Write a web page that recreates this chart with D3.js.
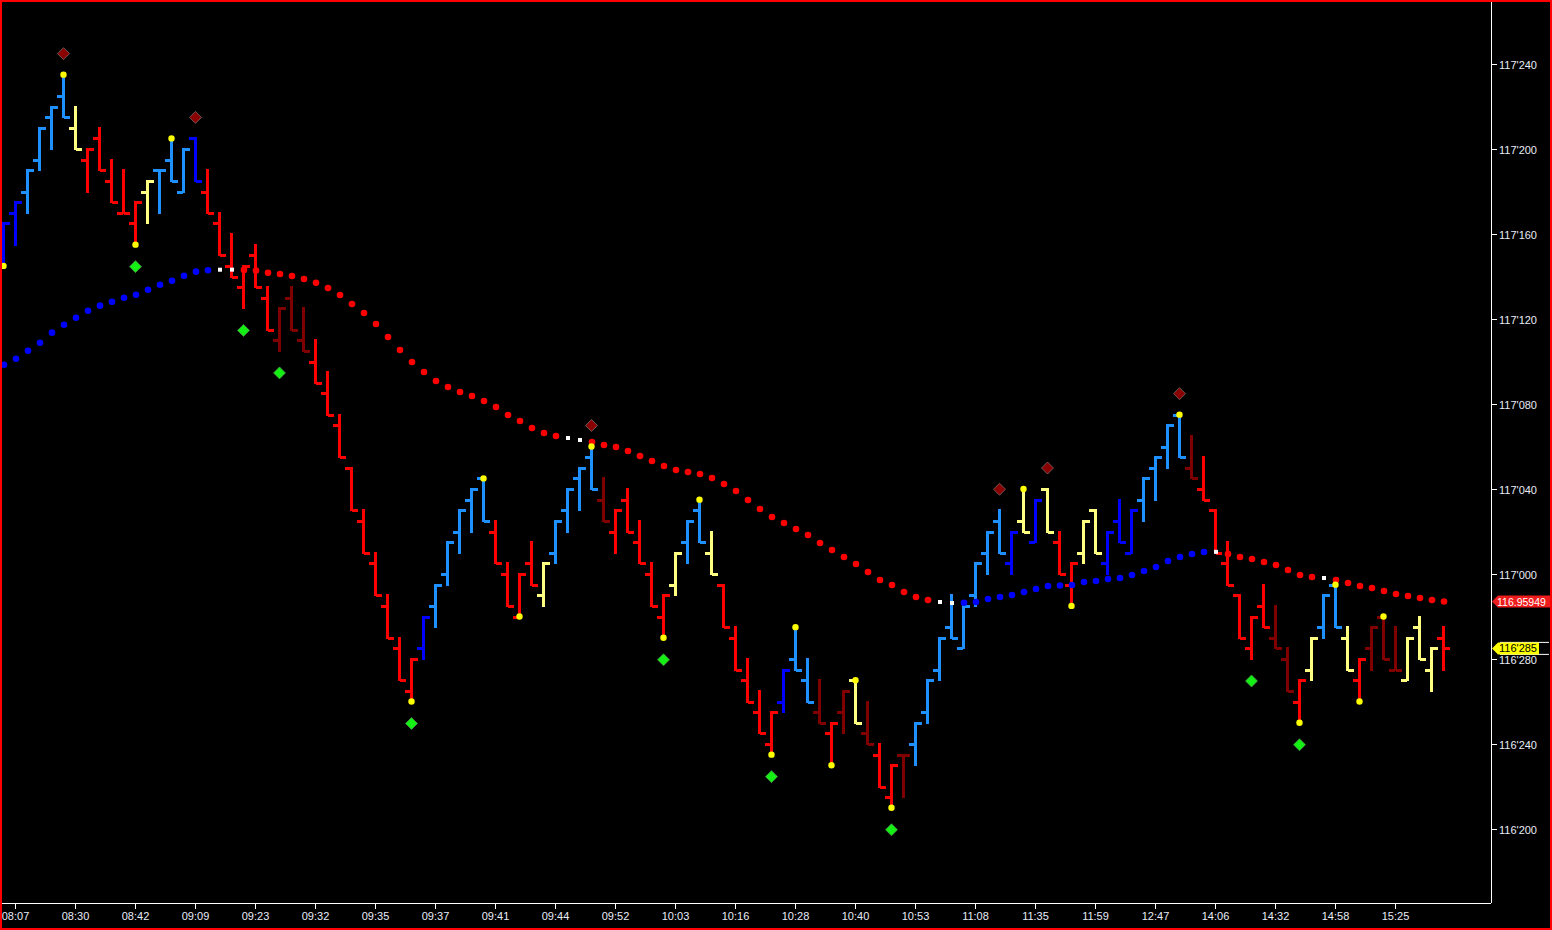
<!DOCTYPE html>
<html><head><meta charset="utf-8">
<script src="https://cdn.jsdelivr.net/npm/d3@7"></script>
<style>
html,body{margin:0;padding:0;background:#000;overflow:hidden;}
svg{display:block;}
text{font-family:"Liberation Sans",Arial,sans-serif;}
</style></head>
<body>
<svg id="chart" width="1552" height="930"></svg>
<script>
// Prices are in 64ths above 116 (price = 116 + v/64)
const opens  = [94,98,100,103,107,109,106,103,105,101,98,97,100,102,103,100,105,100,97,93,91,94,90,86,90,86,84,81,78,74,69,65,61,57,53,57,61,64,68,71,73,68,64,60,65,62,66,70,73,75,71,68,71,67,64,60,63,67,70,66,63,58,54,51,48,52,56,54,51,49,51,54,49,47,43,47,48,51,55,59,57,62,66,69,65,69,67,72,67,63,66,70,65,69,66,71,74,76,79,74,72,70,65,62,57,61,58,56,52,55,59,63,58,54,57,60,55,54,59,55,58];
const highs  = [97,99,102,106,108,111,108,104,106,103,102,99,101,102,105,104,105,102,98,96,93,95,91,89,91,89,86,83,79,74,70,66,62,58,56,60,63,67,70,72,73,69,65,64,67,65,69,72,74,76,73,70,72,69,65,62,66,69,71,68,63,59,56,53,51,55,59,56,54,50,53,54,52,48,46,47,50,54,58,62,61,65,68,70,68,72,71,72,68,65,69,70,68,71,70,73,75,78,79,77,75,70,67,62,60,63,61,57,54,58,62,63,59,56,59,60,59,58,60,57,59];
const lows   = [93,95,98,102,104,107,104,100,102,99,98,95,97,98,101,100,101,98,94,92,89,91,87,85,87,85,82,79,75,70,66,62,58,54,52,56,59,63,66,68,69,65,61,60,63,61,65,68,70,72,69,66,68,65,61,58,62,65,67,64,59,55,52,49,47,51,55,52,50,46,49,50,48,44,42,43,46,50,54,58,57,61,64,66,64,68,67,68,64,61,65,66,64,67,66,69,71,74,75,73,71,66,63,58,56,59,57,53,50,54,58,59,55,52,55,56,55,54,56,53,55];
const closes = [97,99,102,106,108,107,104,104,102,99,98,99,101,102,101,104,101,98,94,92,93,91,87,89,87,85,82,79,75,70,66,62,58,54,56,60,63,67,70,72,69,65,61,64,63,65,69,72,74,72,69,70,68,65,61,62,66,69,67,64,59,55,52,49,51,55,55,52,50,50,53,50,48,44,46,47,50,54,58,58,61,65,68,66,68,68,71,68,64,65,69,66,68,67,70,73,75,78,75,73,71,66,63,58,60,59,57,53,54,58,62,59,55,56,59,56,55,58,56,57,57];
// Bar colour class: B dark blue, L light blue, Y pale yellow, R red, M dark red
const barClass = "BBLLLLYRRRRRYLLLBRRRRRRMMMRRRRRRRRRBLLLLLRRRRYLLLLMRRRRRYLLYRRRRRBLLMRMYMRRMLLLLLLLLBYBYRRYYBBBLLLLMRRRRRRMMRYLLYRMMMYYYR";
// Moving average (price) per bar and its state: U rising, F flat, D falling
const maValues = [117.3078,117.3166,117.3284,117.3401,117.3549,117.3666,117.3769,117.3872,117.3946,117.4004,117.4063,117.4107,117.4181,117.4254,117.4313,117.4387,117.4446,117.4468,117.4475,117.4476,117.4472,117.4462,117.4431,117.4412,117.4382,117.4338,117.4284,117.4206,117.4103,117.3971,117.3838,117.3676,117.3485,117.3294,117.3118,117.2971,117.2838,117.2750,117.2676,117.2618,117.2544,117.2456,117.2338,117.2250,117.2147,117.2074,117.2029,117.2000,117.1971,117.1941,117.1897,117.1868,117.1809,117.1735,117.1662,117.1588,117.1529,117.1500,117.1471,117.1412,117.1324,117.1221,117.1088,117.0956,117.0838,117.0750,117.0662,117.0574,117.0456,117.0353,117.0250,117.0147,117.0029,116.9912,116.9838,116.9735,116.9662,116.9618,116.9588,116.9574,116.9578,116.9588,116.9632,116.9662,116.9691,116.9735,116.9779,116.9824,116.9830,116.9838,116.9882,116.9897,116.9926,116.9941,116.9985,117.0044,117.0103,117.0191,117.0250,117.0294,117.0324,117.0326,117.0294,117.0250,117.0221,117.0176,117.0132,117.0059,116.9985,116.9956,116.9941,116.9912,116.9868,116.9824,116.9794,116.9750,116.9706,116.9676,116.9647,116.9618,116.95949];
const maState = "UUUUUUUUUUUUUUUUUUFFDDDDDDDDDDDDDDDDDDDDDDDDDDDFFDDDDDDDDDDDDDDDDDDDDDDDDDDDDDFFUUUUUUUUUUUUUUUUUUUUUFDDDDDDDDFDDDDDDDDDD";
// Swing markers (bar indices)
const swingHighBars = [5,14,40,49,58,66,71,85,98,111,115];
const swingLowBars  = [0,11,34,43,55,64,69,74,89,108,113];
const buySignalBars = [11,20,23,34,55,64,74,104,108];
const sellSignalBars = [5,16,49,83,87,98];
// Axis labels
const timeLabels = ["08:07","08:30","08:42","09:09","09:23","09:32","09:35","09:37","09:41","09:44","09:52","10:03","10:16","10:28","10:40","10:53","11:08","11:35","11:59","12:47","14:06","14:32","14:58","15:25"];
const priceTicks = [116.625,116.75,116.875,117.0,117.125,117.25,117.375,117.5,117.625,117.75];
const lastMa = 116.95949;
const lastClose = 116.890625;

const toPrice = v => 116 + v/64;
const fmt32 = p => { const i = Math.floor(p + 1e-9); const f = Math.round((p - i) * 320); return i + "'" + String(f).padStart(3, "0"); };

const W = 1552, H = 930, plotR = 1491, plotB = 903;
const svg = d3.select("#chart");
svg.append("rect").attr("width", W).attr("height", H).attr("fill", "#000");

const x = d3.scaleLinear().domain([0, opens.length - 1]).range([3, 1443]);
const y = d3.scaleLinear().domain([117, 117.125]).range([574, 489]);

const colorOf = {B: "#0000ff", L: "#1e90ff", Y: "#ffff80", R: "#ff0000", M: "#800000"};

// Bars
const bars = svg.append("g").attr("shape-rendering", "crispEdges");
opens.forEach((o, i) => {
  const cx = Math.round(x(i)), c = colorOf[barClass[i]];
  const yh = Math.round(y(toPrice(highs[i]))), yl = Math.round(y(toPrice(lows[i])));
  bars.append("rect").attr("x", cx - 1).attr("y", yh - 1).attr("width", 3).attr("height", yl - yh + 2).attr("fill", c);
  bars.append("rect").attr("x", cx - 6).attr("y", Math.round(y(toPrice(o))) - 1).attr("width", 6).attr("height", 3).attr("fill", c);
  bars.append("rect").attr("x", cx + 1).attr("y", Math.round(y(toPrice(closes[i]))) - 1).attr("width", 6).attr("height", 3).attr("fill", c);
});

// Moving average dots
const ma = svg.append("g");
maValues.forEach((v, i) => {
  const st = maState[i];
  if (st === "F") {
    ma.append("rect").attr("x", x(i) + 1 - 2).attr("y", y(v) - 2).attr("width", 4).attr("height", 4).attr("fill", "#fff");
  } else {
    ma.append("circle").attr("cx", x(i) + 1).attr("cy", y(v)).attr("r", 3.3).attr("fill", st === "U" ? "#0000ff" : "#ff0000");
  }
});

// Swing dots
const sw = svg.append("g");
swingHighBars.forEach(i => sw.append("circle").attr("cx", x(i) + 0.5).attr("cy", y(toPrice(highs[i]))).attr("r", 3.2).attr("fill", "#ffff00"));
swingLowBars.forEach(i => sw.append("circle").attr("cx", x(i) + 0.5).attr("cy", y(toPrice(lows[i]))).attr("r", 3.2).attr("fill", "#ffff00"));

// Diamonds
const dia = (cx, cy) => `M${cx},${cy - 6}L${cx + 6},${cy}L${cx},${cy + 6}L${cx - 6},${cy}Z`;
buySignalBars.forEach(i => svg.append("path").attr("d", dia(x(i) + 0.5, y(toPrice(lows[i])) + 22)).attr("fill", "#14f014").attr("stroke", "#4a8a4a").attr("stroke-width", 0.8));
sellSignalBars.forEach(i => svg.append("path").attr("d", dia(x(i) + 0.5, y(toPrice(highs[i])) - 21)).attr("fill", "#8b0000").attr("stroke", "#7a6a6a").attr("stroke-width", 0.8));

// Axes
const axisCol = "#ffffff", txtCol = "#e8ecf8";
svg.append("line").attr("x1", 0).attr("x2", plotR).attr("y1", plotB + 0.5).attr("y2", plotB + 0.5).attr("stroke", axisCol);
svg.append("line").attr("x1", plotR + 0.5).attr("x2", plotR + 0.5).attr("y1", 0).attr("y2", plotB).attr("stroke", axisCol);

const xAx = svg.append("g");
timeLabels.forEach((t, k) => {
  const xi = Math.round(x(1 + 5 * k)) + 0.5;
  xAx.append("line").attr("x1", xi).attr("x2", xi).attr("y1", plotB).attr("y2", plotB + 6).attr("stroke", axisCol);
  xAx.append("text").attr("x", xi).attr("y", 920).attr("text-anchor", "middle").attr("font-size", 11).attr("fill", txtCol).text(t);
});

const yAx = svg.append("g");
priceTicks.forEach(p => {
  const yi = Math.round(y(p)) + 0.5;
  yAx.append("line").attr("x1", plotR).attr("x2", plotR + 6).attr("y1", yi).attr("y2", yi).attr("stroke", axisCol);
  yAx.append("text").attr("x", 1499).attr("y", yi + 4.5).attr("font-size", 11).attr("fill", txtCol).text(fmt32(p));
});

// Last-value labels
const yMa = y(lastMa);
svg.append("path").attr("d", `M1492,${yMa}L1498,${yMa - 6}L1552,${yMa - 6}L1552,${yMa + 6}L1498,${yMa + 6}Z`).attr("fill", "#ee1c1c");
svg.append("text").attr("x", 1497).attr("y", yMa + 4).attr("font-size", 10.5).attr("fill", "#ffffff").text(lastMa.toFixed(5));

const yC = y(lastClose);
svg.append("line").attr("x1", 1500).attr("x2", 1549).attr("y1", yC - 6).attr("y2", yC - 6).attr("stroke", "#fff");
svg.append("line").attr("x1", 1500).attr("x2", 1549).attr("y1", yC + 6).attr("y2", yC + 6).attr("stroke", "#fff");
svg.append("path").attr("d", `M1492,${yC}L1498,${yC - 6}L1539,${yC - 6}L1539,${yC + 6}L1498,${yC + 6}Z`).attr("fill", "#ffff00");
svg.append("text").attr("x", 1499).attr("y", yC + 4).attr("font-size", 11).attr("fill", "#000").text(fmt32(lastClose));

// Frame
svg.append("rect").attr("x", 1).attr("y", 1).attr("width", W - 2).attr("height", H - 2).attr("fill", "none").attr("stroke", "#ff0000").attr("stroke-width", 2);
</script>
</body></html>
